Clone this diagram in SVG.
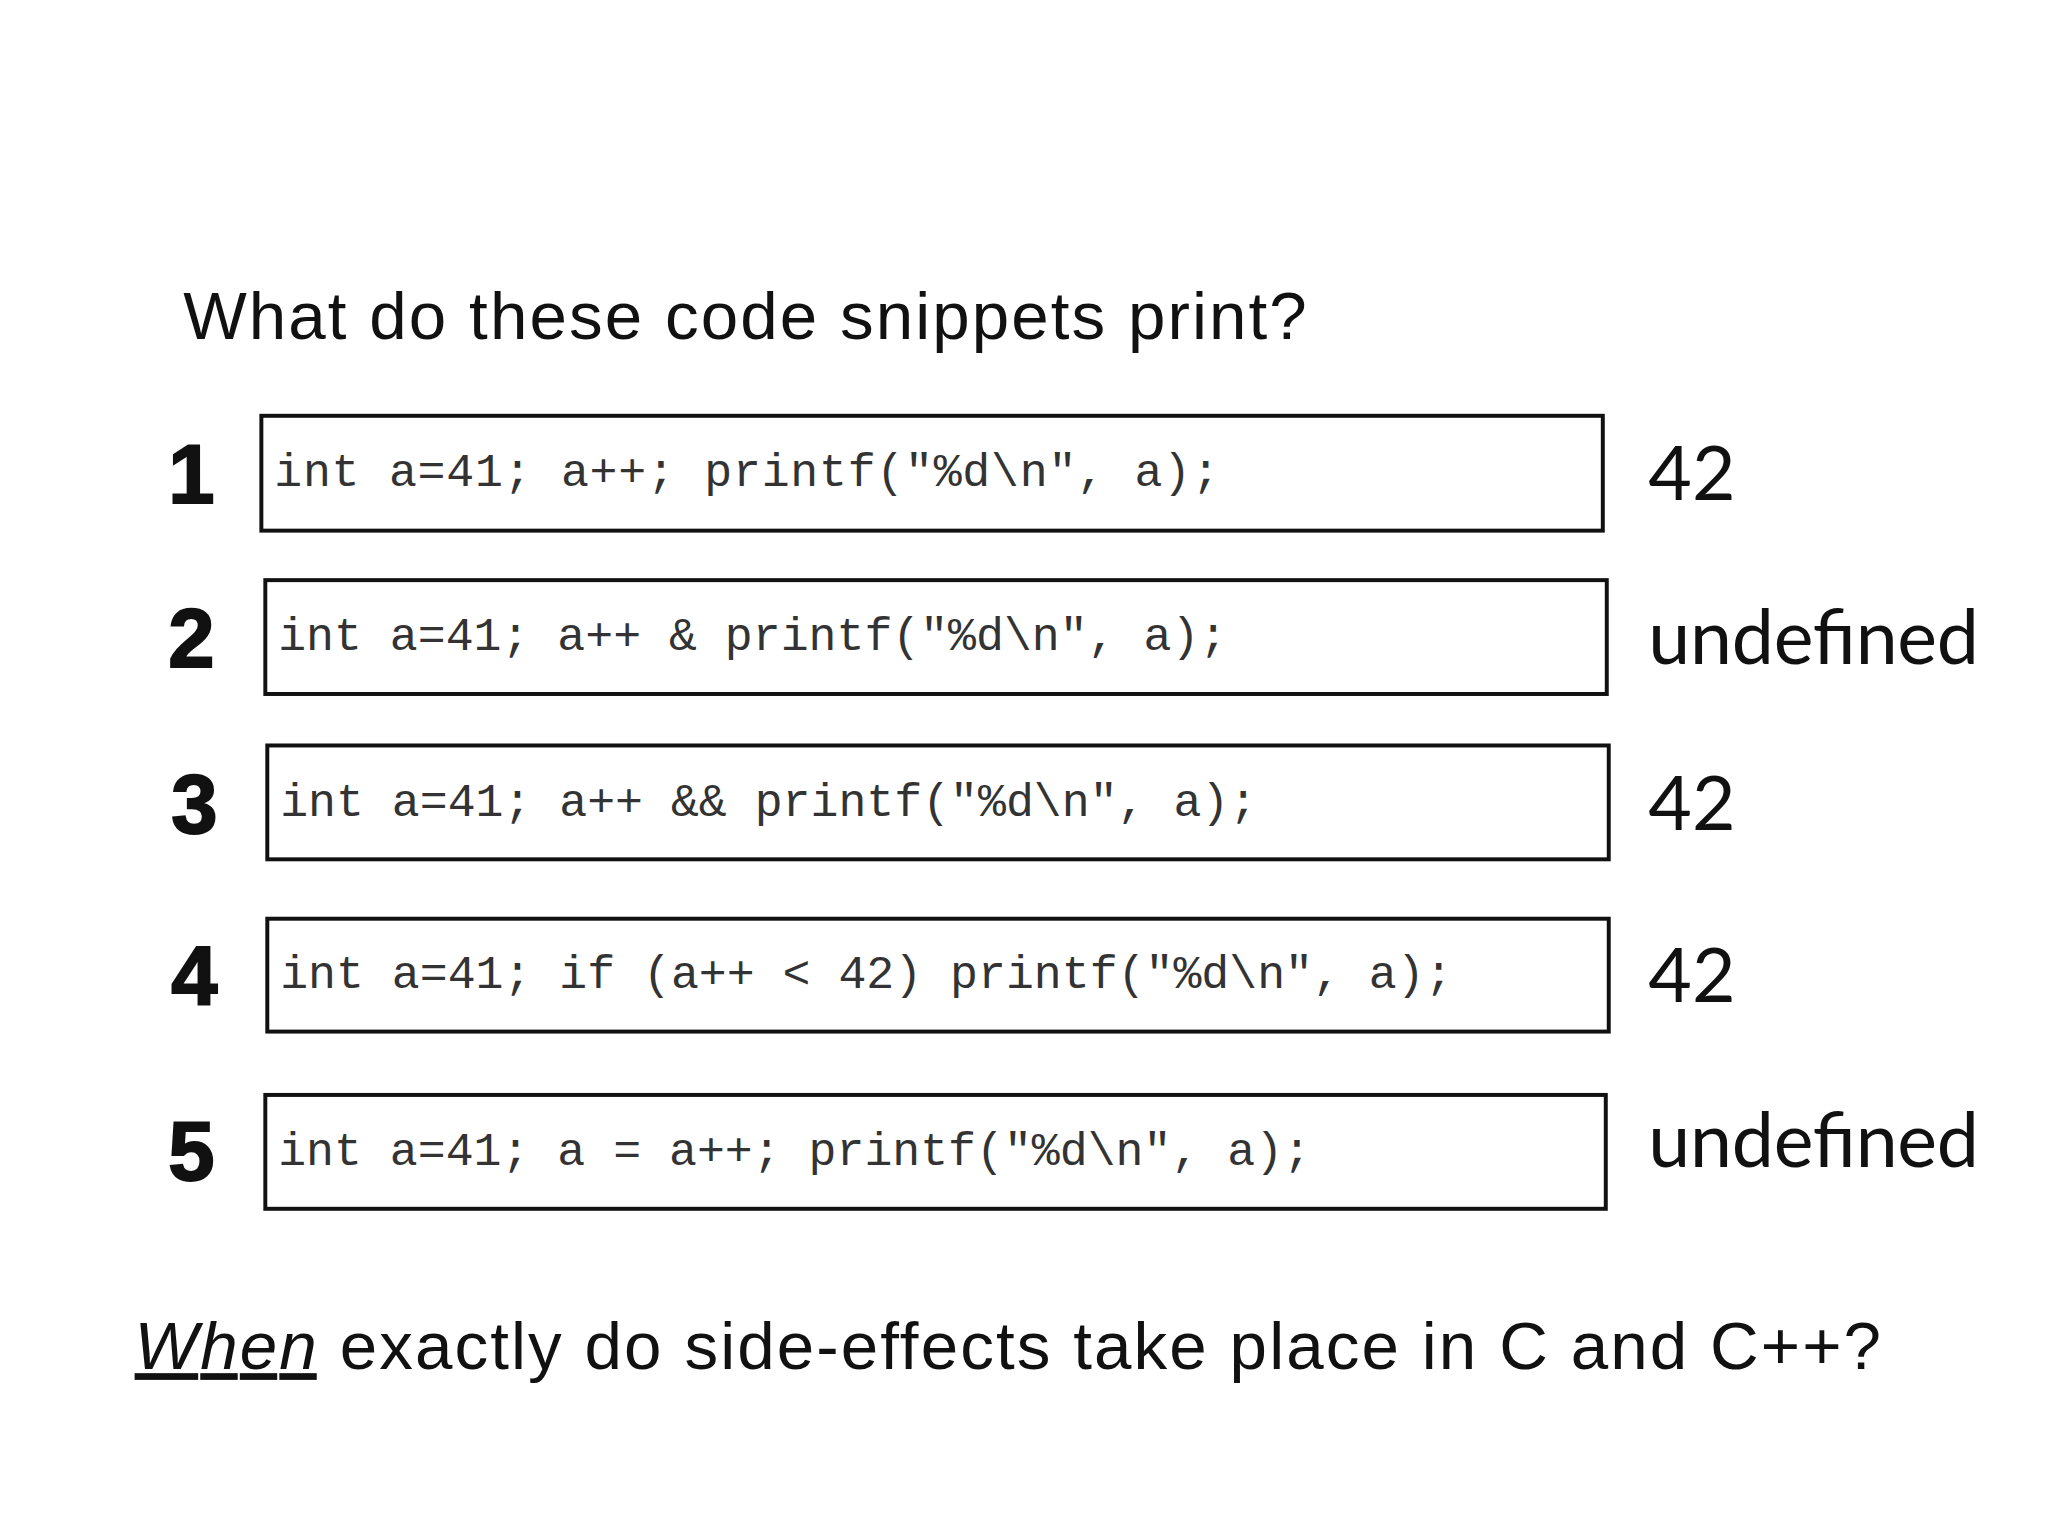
<svg xmlns="http://www.w3.org/2000/svg" width="2048" height="1536" viewBox="0 0 2048 1536">
<style>
.t{font-family:"Liberation Sans",Arial,sans-serif;font-size:68px;fill:#111}
.n{font-family:"Liberation Sans",Arial,sans-serif;font-weight:900;font-size:84px;fill:#111;stroke:#111;stroke-width:2}
.c{font-family:"Liberation Mono","Courier New",monospace;font-size:47px;fill:#333}
.a{font-family:"Lato","Liberation Sans",sans-serif;font-size:76px;fill:#111}
.b{fill:#fff;stroke:#111;stroke-width:4}
</style>
<rect width="2048" height="1536" fill="#fff"/>
<g transform="scale(0.99)">
<text class="t" x="185" y="342" textLength="1135">What do these code snippets print?</text>
<g id="row1"><text class="n" x="170" y="508">1</text><rect class="b" x="264" y="420" width="1355" height="116"/><text class="c" x="277" y="491" textLength="955">int a=41; a++; printf("%d\n", a);</text><text class="a" x="1665" y="505">42</text></g>
<g id="row2"><text class="n" x="170" y="674">2</text><rect class="b" x="268" y="586" width="1355" height="115"/><text class="c" x="281" y="657">int a=41; a++ &amp; printf("%d\n", a);</text><text class="a" x="1665" y="671" textLength="334">undefined</text></g>
<g id="row3"><text class="n" x="173" y="841">3</text><rect class="b" x="270" y="753" width="1355" height="115"/><text class="c" x="283" y="824">int a=41; a++ &amp;&amp; printf("%d\n", a);</text><text class="a" x="1665" y="838">42</text></g>
<g id="row4"><text class="n" x="173" y="1015">4</text><rect class="b" x="270" y="928" width="1355" height="114"/><text class="c" x="283" y="998">int a=41; if (a++ &lt; 42) printf("%d\n", a);</text><text class="a" x="1665" y="1012">42</text></g>
<g id="row5"><text class="n" x="170" y="1192">5</text><rect class="b" x="268" y="1106" width="1354" height="115"/><text class="c" x="281" y="1177">int a=41; a = a++; printf("%d\n", a);</text><text class="a" x="1665" y="1179" textLength="334">undefined</text></g>
<text class="t" x="136" y="1383" textLength="1764"><tspan font-style="italic" text-decoration="underline">When</tspan> exactly do side-effects take place in C and C++?</text>
</g>
</svg>
